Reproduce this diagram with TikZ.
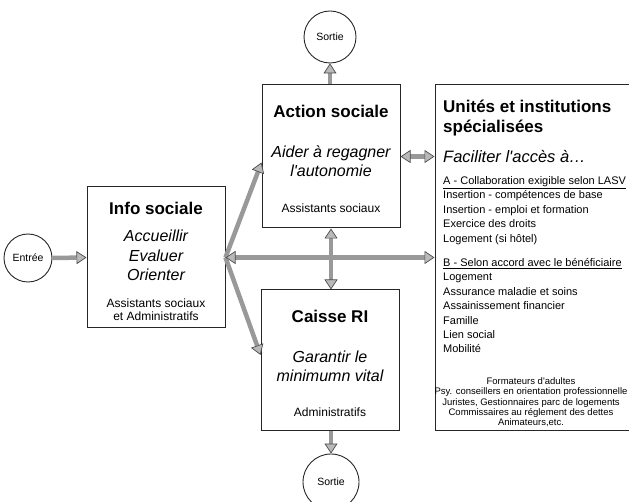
\documentclass[tikz,border=0pt]{standalone}
\usepackage{fontspec}
\setmainfont{Liberation Sans}[Ligatures=TeXOff]
\usetikzlibrary{arrows.meta,calc}
\begin{document}
\begin{tikzpicture}[x=1pt,y=-1pt,
  box/.style={draw=black!85,line width=1pt,inner sep=0pt},
  term/.style={draw=black!85,line width=0.9pt,circle,inner sep=0pt,font=\fontsize{10.5}{12}\selectfont},
  ln/.style={inner sep=0pt,text height=0.72em,text depth=0pt},
  ttl/.style={ln,font=\fontsize{17}{20}\selectfont\bfseries},
  itl/.style={ln,font=\fontsize{16}{19}\selectfont\itshape},
  sml/.style={ln,font=\fontsize{12}{14}\selectfont},
  lst/.style={ln,anchor=west,font=\fontsize{11}{13}\selectfont},
  crd/.style={ln,font=\fontsize{9.5}{11}\selectfont},
  flow/.style={line width=4.5pt,draw=gray!80},
  >={Triangle[length=10pt,width=13pt,fill=gray!55,color=black!70,line width=0.7pt]}
]
\useasboundingbox (0,0) rectangle (629,502);

% terminals
\node[term,minimum size=48pt] (entree) at (28,258) {Entrée};
\node[term,minimum size=52pt] (s1) at (330,37) {Sortie};
\node[term,minimum size=56pt] (s2) at (331,482) {Sortie};

% boxes
\node[box,minimum width=138pt,minimum height=141pt] (info) at (156,257.5) {};
\node[box,minimum width=138pt,minimum height=143pt] (action) at (331,156.5) {};
\node[box,minimum width=138pt,minimum height=140pt] (caisse) at (330,360) {};
\node[box,minimum width=205pt,minimum height=345pt] (unites) at (537.5,257.5) {};

% Info sociale text
\node[ttl] (i1) at (156,210.5) {Info sociale};
\node[itl] (i2) at (156,237.5) {Accueillir};
\node[itl] (i3) at (156,257.5) {Evaluer};
\node[itl] (i4) at (156,276.5) {Orienter};
\node[sml] (i5) at (156,303.5) {Assistants sociaux};
\node[sml] (i6) at (156,317) {et Administratifs};

% Action sociale text
\node[ttl] (a1) at (331,113.5) {Action sociale};
\node[itl] (a2) at (331,153.5) {Aider à regagner};
\node[itl] (a3) at (331,172.5) {l'autonomie};
\node[sml] (a4) at (331,209) {Assistants sociaux};

% Caisse RI text
\node[ttl] (c1) at (330,318.5) {Caisse RI};
\node[itl] (c2) at (330,358.5) {Garantir le};
\node[itl] (c3) at (330,377.5) {minimumn vital};
\node[sml] (c4) at (330,412.5) {Administratifs};

% Unites text
\node[ttl,anchor=west] (u1) at (443,109) {Unités et institutions};
\node[ttl,anchor=west] (u2) at (443,128.5) {spécialisées};
\node[itl,anchor=west,font=\fontsize{16.5}{19}\selectfont\itshape] (u3) at (443,158.5) {Faciliter l'accès à…};
\node[lst] (l1) at (443,181) {\underline{A - Collaboration exigible selon LASV}};
\node[lst] (l2) at (443,195.4) {Insertion - compétences de base};
\node[lst] (l3) at (443,209.8) {Insertion - emploi et formation};
\node[lst] (l4) at (443,224.2) {Exercice des droits};
\node[lst] (l5) at (443,238.6) {Logement (si hôtel)};
\node[lst] (l6) at (443,263) {\underline{B - Selon accord avec le bénéficiaire}};
\node[lst] (l7) at (443,277.4) {Logement};
\node[lst] (l8) at (443,291.8) {Assurance maladie et soins};
\node[lst] (l9) at (443,306.2) {Assainissement financier};
\node[lst] (l10) at (443,320.6) {Famille};
\node[lst] (l11) at (443,335) {Lien social};
\node[lst] (l12) at (443,349.4) {Mobilité};
\node[crd] (k1) at (531,381) {Formateurs d'adultes};
\node[crd] (k2) at (531,391.2) {Psy. conseillers en orientation professionnelle};
\node[crd] (k3) at (531,401.4) {Juristes, Gestionnaires parc de logements};
\node[crd] (k4) at (531,411.6) {Commissaires au réglement des dettes};
\node[crd] (k5) at (531,421.8) {Animateurs,etc.};

% connectors
\draw[flow,->] (entree.east) -- (info.west);
\draw[flow,->] (info.east) -- ([yshift=-6pt]action.west);
\draw[flow,->] (info.east) -- ([yshift=5pt]caisse.west);
\draw[flow,<->] (info.east) -- (info.east -| unites.west);
\draw[flow,<->] (action.south) -- (caisse.north -| action.south);
\draw[flow,<->] (action.east) -- (action.east -| unites.west);
\draw[flow,->] (action.north -| s1.south) -- (s1.south);
\draw[flow,->] (caisse.south -| s2.north) -- (s2.north);
\end{tikzpicture}
\end{document}
